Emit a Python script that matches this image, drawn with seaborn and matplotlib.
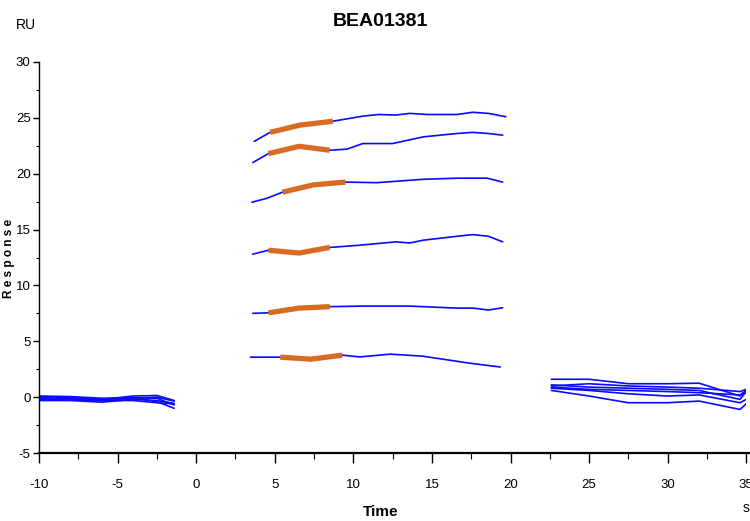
import matplotlib
matplotlib.use("Agg")
import matplotlib.pyplot as plt
from matplotlib.ticker import MultipleLocator
import seaborn as sns
import numpy as np
import pandas as pd

title = "BEA01381"

# Association/dissociation curves (blue)
mid_x = [
    [3.7, 4.7, 6.6, 8.7, 10.6, 11.6, 12.7, 13.6, 14.7, 16.6, 17.6, 18.6, 19.7],
    [3.6, 4.6, 6.55, 8.5, 9.6, 10.6, 12.5, 14.45, 16.6, 17.6, 18.6, 19.5],
    [3.55, 4.5, 5.5, 7.45, 9.5, 11.5, 14.45, 16.6, 18.5, 19.5],
    [3.6, 4.6, 6.55, 8.5, 10.4, 12.7, 13.6, 14.45, 16.6, 17.6, 18.6, 19.5],
    [3.6, 4.6, 6.55, 8.5, 10.6, 13.6, 16.6, 17.6, 18.6, 19.5],
    [3.45, 5.35, 7.3, 9.3, 10.4, 12.35, 14.4, 17.4, 19.35],
]
mid_y = [
    [22.9, 23.7, 24.35, 24.7, 25.15, 25.3, 25.25, 25.4, 25.3, 25.3, 25.5, 25.4, 25.1],
    [21.0, 21.8, 22.45, 22.1, 22.2, 22.7, 22.7, 23.3, 23.6, 23.7, 23.6, 23.45],
    [17.45, 17.8, 18.35, 19.0, 19.25, 19.2, 19.5, 19.6, 19.6, 19.25],
    [12.8, 13.15, 12.9, 13.4, 13.6, 13.9, 13.8, 14.05, 14.4, 14.55, 14.4, 13.9],
    [7.5, 7.55, 7.97, 8.1, 8.15, 8.15, 7.97, 7.97, 7.8, 8.0],
    [3.58, 3.58, 3.4, 3.76, 3.6, 3.85, 3.67, 3.04, 2.7],
]

# Baseline (left) curves
left_x = [-10, -8, -6, -4, -2.5, -1.4]
left_y = [
    [0.1, 0.05, -0.1, -0.05, -0.4, -1.0],
    [0.0, -0.1, -0.3, -0.1, 0.0, -0.35],
    [-0.3, -0.3, -0.45, -0.2, -0.3, -0.55],
    [-0.1, -0.05, -0.2, 0.1, 0.15, -0.3],
    [0.05, -0.15, -0.25, -0.05, -0.1, -0.7],
    [-0.2, -0.25, -0.3, -0.3, -0.5, -0.6],
]

# Regeneration (right) curves
right_x = [22.6, 25, 27.5, 30, 32, 34.6, 35]
right_y = [
    [1.6, 1.6, 1.2, 1.2, 1.25, 0.1, 0.55],
    [1.1, 0.9, 0.8, 0.7, 0.6, -0.2, 0.5],
    [0.9, 0.7, 0.6, 0.5, 0.4, 0.2, 0.6],
    [1.0, 1.2, 1.0, 0.9, 0.8, 0.5, 0.7],
    [0.6, 0.1, -0.5, -0.5, -0.35, -1.1, -0.6],
    [0.8, 0.6, 0.3, 0.1, 0.2, -0.5, -0.2],
]

# Fitted segments (orange)
fit_x = [
    [4.7, 6.6, 8.7],
    [4.6, 6.55, 8.5],
    [5.5, 7.45, 9.5],
    [4.6, 6.55, 8.5],
    [4.6, 6.55, 8.5],
    [5.35, 7.3, 9.3],
]
fit_y = [
    [23.7, 24.35, 24.7],
    [21.8, 22.45, 22.1],
    [18.35, 19.0, 19.25],
    [13.15, 12.9, 13.4],
    [7.55, 7.97, 8.1],
    [3.58, 3.4, 3.76],
]

x_ticks = [-10, -5, 0, 5, 10, 15, 20, 25, 30, 35]
y_ticks = [-5, 0, 5, 10, 15, 20, 25, 30]

sns.set_theme(style="ticks")
plt.rcParams["font.family"] = ["Liberation Sans Narrow", "Liberation Sans", "DejaVu Sans"]
plt.rcParams["text.color"] = "black"
plt.rcParams["xtick.color"] = "black"
plt.rcParams["ytick.color"] = "black"

BLUE = "#0a0aff"
ORANGE = "#d86a22"

fig = plt.figure(figsize=(7.5, 5.21), dpi=100)
ax = fig.add_axes([0.052, 0.1305, 0.943, 0.7505])

rows = []
for i, (xs, ys) in enumerate(zip(mid_x, mid_y)):
    rows += [("m%d" % i, x, y) for x, y in zip(xs, ys)]
for i, ys in enumerate(left_y):
    rows += [("l%d" % i, x, y) for x, y in zip(left_x, ys)]
for i, ys in enumerate(right_y):
    rows += [("r%d" % i, x, y) for x, y in zip(right_x, ys)]
df = pd.DataFrame(rows, columns=["curve", "time", "resp"])

sns.lineplot(data=df, x="time", y="resp", units="curve", estimator=None,
             sort=False, color=BLUE, linewidth=1.2, ax=ax, legend=False)

frows = []
for i, (xs, ys) in enumerate(zip(fit_x, fit_y)):
    frows += [("f%d" % i, x, y) for x, y in zip(xs, ys)]
fdf = pd.DataFrame(frows, columns=["curve", "time", "resp"])
sns.lineplot(data=fdf, x="time", y="resp", units="curve", estimator=None,
             sort=False, color=ORANGE, linewidth=3.8, ax=ax, legend=False,
             solid_capstyle="butt")

ax.set_xlim(-10, 35)
ax.set_ylim(-5, 30)
ax.set_xticks(x_ticks)
ax.set_yticks(y_ticks)
ax.xaxis.set_minor_locator(MultipleLocator(2.5))
ax.yaxis.set_minor_locator(MultipleLocator(2.5))
ax.set_xticklabels([str(t) for t in x_ticks], fontsize=9.5)
ax.set_yticklabels([str(t) for t in y_ticks], fontsize=9.5)
ax.tick_params(axis="x", which="major", direction="out", length=7, width=1, pad=12)
ax.tick_params(axis="x", which="minor", direction="out", length=4, width=0.8)
ax.tick_params(axis="y", which="major", direction="out", length=4, width=1, pad=2)
ax.tick_params(axis="y", which="minor", direction="out", length=2, width=0.8)

for s in ["top", "right"]:
    ax.spines[s].set_visible(False)
ax.spines["left"].set_linewidth(1.0)
ax.spines["bottom"].set_linewidth(1.6)
ax.spines["left"].set_color("black")
ax.spines["bottom"].set_color("black")
ax.spines["bottom"].set_bounds(-10, 35.5)
ax.set_xlabel("")
ax.set_ylabel("")

fig.text(0.507, 0.958, title, ha="center", va="center", fontsize=14, fontweight="bold")
fig.text(0.034, 0.952, "RU", ha="center", va="center", fontsize=10)
fig.text(0.507, 0.017, "Time", ha="center", va="center", fontsize=11, fontweight="bold")
fig.text(0.995, 0.025, "s", ha="center", va="center", fontsize=10)
fig.text(0.012, 0.503, "R e s p o n s e", ha="center", va="center", rotation=90,
         fontsize=8.5, fontweight="bold", family=["Liberation Sans", "DejaVu Sans"])

fig.savefig("out.png", dpi=100, facecolor="white")
